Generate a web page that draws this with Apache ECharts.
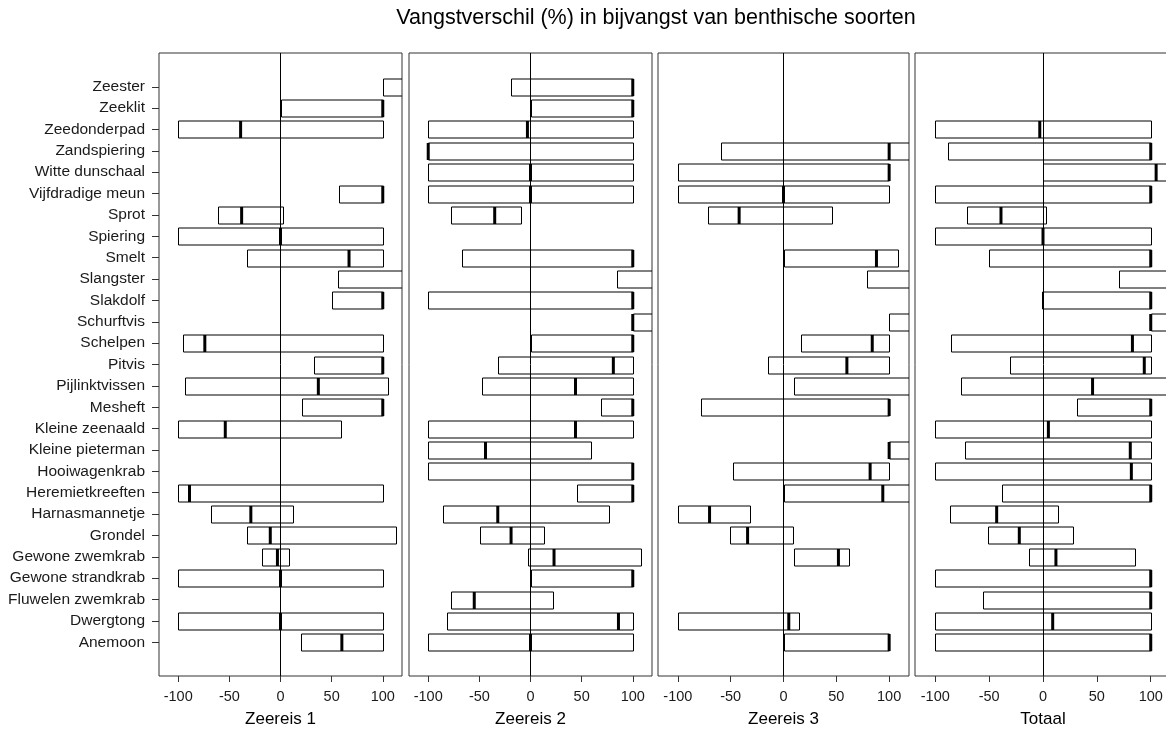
<!DOCTYPE html>
<html>
<head>
<meta charset="utf-8">
<script src="https://cdn.jsdelivr.net/npm/echarts@6/dist/echarts.min.js"></script>
<style>
html,body{margin:0;padding:0;background:#fff;}
#chart{width:1166px;height:729px;}
</style>
</head>
<body>
<div id="chart"></div>
<script>
// ---------- DATA ----------
const TITLE = "Vangstverschil (%) in bijvangst van benthische soorten";
const CATEGORIES = ["Zeester","Zeeklit","Zeedonderpad","Zandspiering","Witte dunschaal","Vijfdradige meun","Sprot","Spiering","Smelt","Slangster","Slakdolf","Schurftvis","Schelpen","Pitvis","Pijlinktvissen","Mesheft","Kleine zeenaald","Kleine pieterman","Hooiwagenkrab","Heremietkreeften","Harnasmannetje","Grondel","Gewone zwemkrab","Gewone strandkrab","Fluwelen zwemkrab","Dwergtong","Anemoon"];
const PANEL_NAMES = ["Zeereis 1","Zeereis 2","Zeereis 3","Totaal"];
const X_TICKS = [-100,-50,0,50,100];

// Zeereis 1
const Z1_LOW  = [100,0,-100,null,null,57,-61,-100,-33,56,50,null,-95,33,-93,21,-100,null,null,-100,-68,-33,-18,-100,null,-100,20];
const Z1_MED  = [null,100,-39,null,null,100,-38,0,67,null,100,null,-74,100,37,100,-54,null,null,-89,-29,-10,-3,0,null,0,60];
const Z1_HIGH = [130,100,100,null,null,100,2,100,100,130,100,null,100,100,105,100,59,null,null,100,12,113,8,100,null,100,100];
// Zeereis 2
const Z2_LOW  = [-19,0,-100,-100,-100,-100,-78,null,-67,85,-100,100,0,-32,-47,69,-100,-100,-100,45,-86,-49,-2,0,-78,-82,-100];
const Z2_MED  = [100,100,-3,-100,0,0,-35,null,100,null,100,100,100,81,44,100,44,-44,100,100,-32,-19,23,100,-55,86,0];
const Z2_HIGH = [100,100,100,100,100,100,-9,null,100,130,100,130,100,100,100,100,100,59,100,100,77,13,108,100,22,100,100];
// Zeereis 3
const Z3_LOW  = [null,null,null,-59,-100,-100,-71,null,0,79,null,100,17,-15,10,-78,null,100,-48,0,-100,-51,10,null,null,-100,0];
const Z3_MED  = [null,null,null,100,100,0,-42,null,88,null,null,null,84,60,null,100,null,100,82,94,-70,-34,52,null,null,5,100];
const Z3_HIGH = [null,null,null,130,100,100,46,null,108,130,null,130,100,100,130,100,null,130,100,130,-32,9,62,null,null,15,100];
// Totaal
const TOT_LOW  = [null,null,-100,-88,0,-100,-71,-100,-50,71,-1,100,-85,-31,-76,32,-100,-72,-100,-38,-86,-51,-13,-100,-56,-100,-100];
const TOT_MED  = [null,null,-3,100,105,100,-39,0,100,null,100,100,83,94,46,100,5,81,82,100,-43,-22,12,100,100,9,100];
const TOT_HIGH = [null,null,100,100,130,100,3,100,100,130,100,130,100,100,130,100,100,100,100,100,14,28,85,100,100,100,100];

const PANELS = [
  {low: Z1_LOW, med: Z1_MED, high: Z1_HIGH},
  {low: Z2_LOW, med: Z2_MED, high: Z2_HIGH},
  {low: Z3_LOW, med: Z3_MED, high: Z3_HIGH},
  {low: TOT_LOW, med: TOT_MED, high: TOT_HIGH}
];

// ---------- LAYOUT ----------
const FONT = "'Liberation Sans', Arial, sans-serif";
const GRID_BOXES = [
  {left:159, width:243},
  {left:409, width:243},
  {left:658, width:251},
  {left:915, width:256}   // runs past the right edge of the picture
];
const XLIM = 118.8;
const TOP = 53, HEIGHT = 623;
const N = CATEGORIES.length;
const YPAD = 1.58;
const FRAME = '#333';

const chart = echarts.init(document.getElementById('chart'), null, {renderer:'canvas'});

const grids = [], xAxes = [], yAxes = [], series = [];
PANELS.forEach((p, k) => {
  const g = GRID_BOXES[k];
  grids.push({left: g.left, width: g.width, top: TOP, height: HEIGHT,
    outerBoundsMode: 'none', containLabel: false,
    show: true, borderColor: FRAME, borderWidth: 1, backgroundColor: 'transparent'});
  xAxes.push({
    type: 'value', gridIndex: k, min: -XLIM, max: XLIM, position: 'bottom',
    splitLine: {show:false},
    axisLine: {show: false, onZero:false},
    axisTick: {show:true, customValues: X_TICKS, length: 6, lineStyle:{color:'#333'}},
    axisLabel: {customValues: X_TICKS, fontSize: 14.5, color:'#1a1a1a', margin: 13, fontFamily: FONT},
    name: PANEL_NAMES[k], nameLocation: 'middle', nameGap: 35,
    nameTextStyle: {fontSize: 17, color:'#000', fontFamily: FONT}
  });
  const yPos = CATEGORIES.map((c, i) => N - 1 - i);
  yAxes.push({
    type: 'value', gridIndex: k, min: -YPAD, max: N - 1 + YPAD, position: 'left',
    show: k === 0,
    splitLine: {show:false},
    axisLine: {show: false, onZero:false},
    axisTick: {show: k === 0, customValues: yPos, length: 7, lineStyle:{color:'#333'}},
    axisLabel: {show: k === 0, customValues: yPos, fontSize: 15.5, color:'#1a1a1a', margin: 14, fontFamily: FONT,
      formatter: v => CATEGORIES[N - 1 - Math.round(v)]}
  });
  const items = [];
  CATEGORIES.forEach((c, i) => {
    if (p.low[i] === null) return;
    items.push({y: N - 1 - i, lo: p.low[i], md: p.med[i], hi: p.high[i]});
  });
  series.push({
    type: 'custom', xAxisIndex: k, yAxisIndex: k, clip: true,
    data: items.map(d => [d.lo, d.y, d.hi]),
    encode: {x: [0, 2], y: 1},
    renderItem: function (params, api) {
      const d = items[params.dataIndex];
      const a = api.coord([d.lo, d.y]);
      const b = api.coord([d.hi, d.y]);
      const h = api.size([0, 1])[1] * 0.8;
      const yc = Math.round(a[1]) + 0.5;
      const x0 = Math.round(a[0]) + 0.5, x1 = Math.round(b[0]) + 0.5;
      const yt = Math.round(yc - h / 2), hh = Math.round(h);
      const children = [{
        type: 'rect',
        shape: {x: x0, y: yt, width: x1 - x0, height: hh},
        style: {fill: 'none', stroke: '#000', lineWidth: 1}
      }];
      if (d.md !== null) {
        const m = api.coord([d.md, d.y]);
        children.push({
          type: 'line',
          shape: {x1: m[0], y1: yt, x2: m[0], y2: yt + hh},
          style: {stroke: '#000', lineWidth: 3}
        });
      }
      return {type: 'group', children: children};
    },
    markLine: {
      silent: true, symbol: ['none','none'], label: {show:false},
      lineStyle: {color:'#000', width:1, type:'solid'},
      data: [{xAxis: 0}]
    },
    z: 2
  });
});

chart.setOption({
  animation: false,
  backgroundColor: '#fff',
  textStyle: {fontFamily: FONT},
  graphic: [{
    type: 'text', x: 656, y: 18,
    style: {text: TITLE, fill: '#000', font: "21.5px 'Liberation Sans', Arial, sans-serif",
      textAlign: 'center', textVerticalAlign: 'middle'}
  }],
  grid: grids, xAxis: xAxes, yAxis: yAxes, series: series
});
</script>
</body>
</html>
